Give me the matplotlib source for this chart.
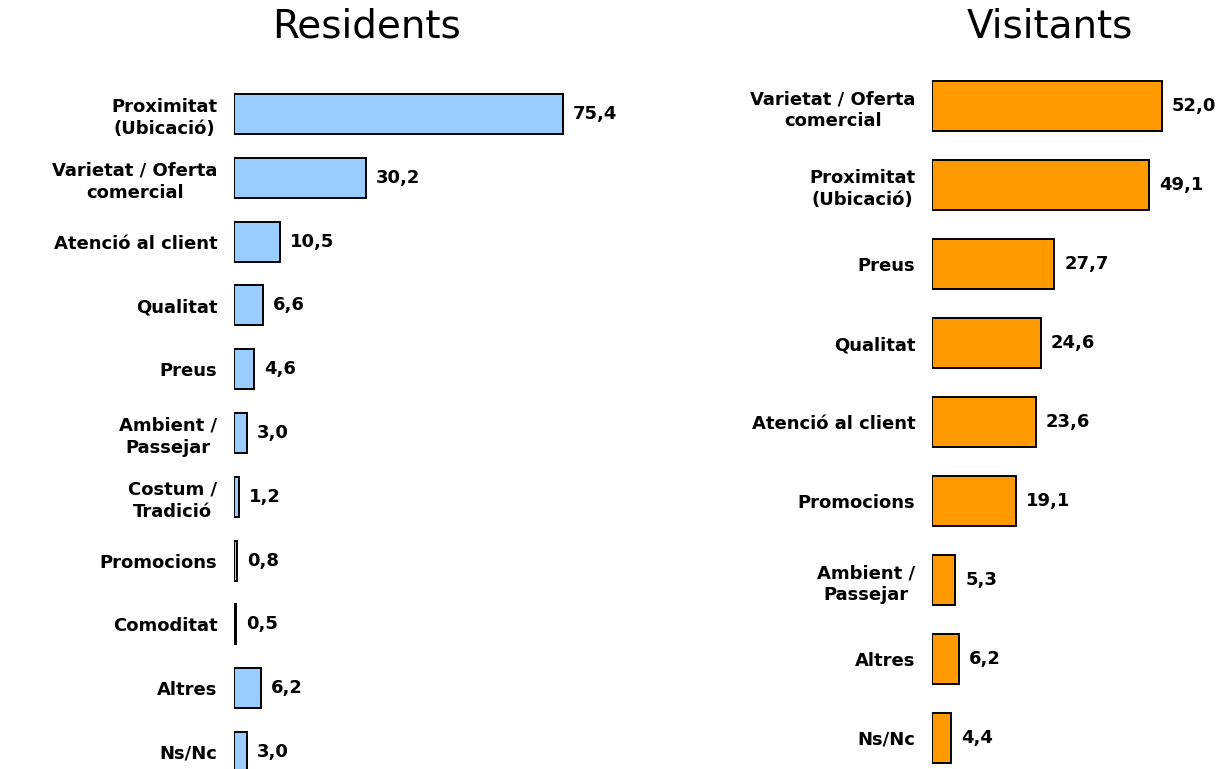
import matplotlib.pyplot as plt

res_labels = ["Proximitat\n(Ubicació)", "Varietat / Oferta\ncomercial", "Atenció al client",
              "Qualitat", "Preus", "Ambient /\nPassejar", "Costum /\nTradició",
              "Promocions", "Comoditat", "Altres", "Ns/Nc"]
res_values = [75.4, 30.2, 10.5, 6.6, 4.6, 3.0, 1.2, 0.8, 0.5, 6.2, 3.0]

vis_labels = ["Varietat / Oferta\ncomercial", "Proximitat\n(Ubicació)", "Preus", "Qualitat",
              "Atenció al client", "Promocions", "Ambient /\nPassejar", "Altres", "Ns/Nc"]
vis_values = [52.0, 49.1, 27.7, 24.6, 23.6, 19.1, 5.3, 6.2, 4.4]

W, H = 1227, 769
FS = 13
fig = plt.figure(figsize=(W / 100, H / 100), dpi=100)


def panel(x0, x1, labels, values, color, xmax, ylim, bar_h):
    ax = fig.add_axes([x0 / W, 0, (x1 - x0) / W, 1])
    y = list(range(len(values)))
    ax.barh(y, values, height=bar_h, color=color, edgecolor="black", linewidth=1.4)
    ax.set_xlim(0, xmax)
    ax.set_ylim(*ylim)
    ax.set_yticks(y)
    ax.set_yticklabels(labels, fontsize=FS, fontweight="bold",
                       multialignment="center", linespacing=1.3)
    ax.tick_params(axis="y", length=0, pad=12)
    ax.set_xticks([])
    for s in ax.spines.values():
        s.set_visible(False)
    for yi, v in zip(y, values):
        ax.annotate(f"{v:.1f}".replace(".", ","), (v, yi), xytext=(7, 0),
                    textcoords="offset points", va="center", ha="left",
                    fontsize=FS, fontweight="bold")
    return ax


panel(234, 640, res_labels, res_values, "#99CCFF", (640 - 234) / 4.36,
      ((769 - 114) / 63.8, -114 / 63.8), 40 / 63.8)
panel(932, 1227, vis_labels, vis_values, "#FF9900", (1227 - 932) / 4.42,
      ((769 - 106) / 79, -106 / 79), 50 / 79)

fig.text(367 / W, 1 - 27 / H, "Residents", ha="center", va="center", fontsize=28)
fig.text(1050 / W, 1 - 27 / H, "Visitants", ha="center", va="center", fontsize=28)

fig.savefig("out.png", dpi=100)
